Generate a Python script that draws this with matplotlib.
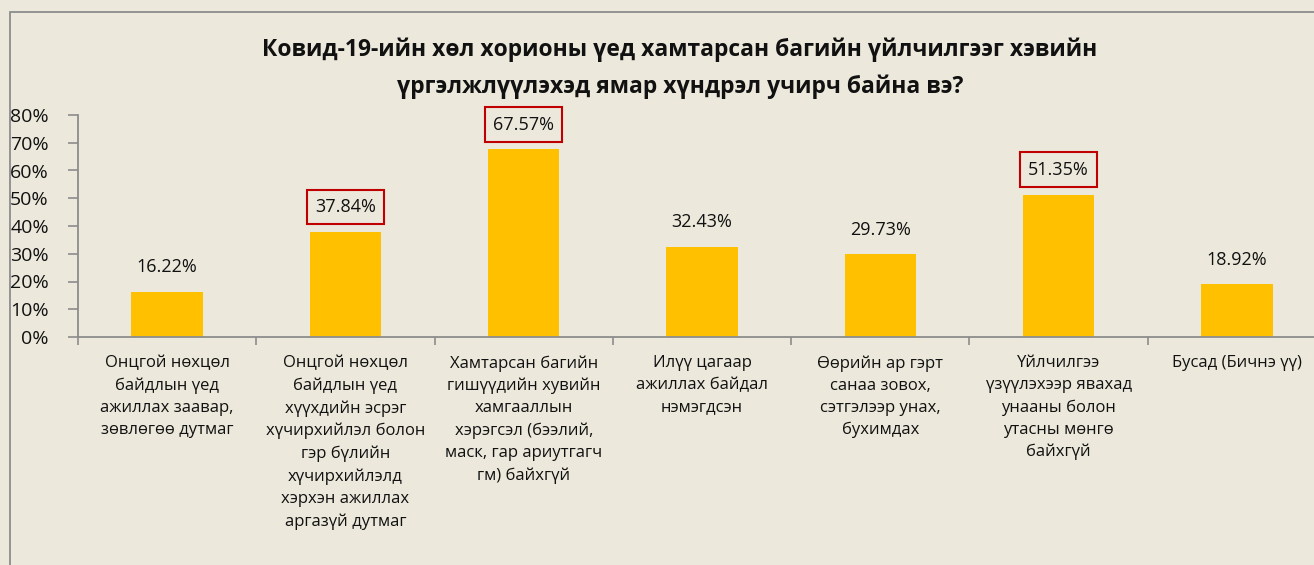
import numpy as np
import matplotlib.pyplot as plt
from matplotlib.patches import Rectangle

plt.rcParams['font.family'] = ['Open Sans', 'DejaVu Sans']

# өгөгдөл
categories = [
    "Онцгой нөхцөл\nбайдлын үед\nажиллах заавар,\nзөвлөгөө дутмаг",
    "Онцгой нөхцөл\nбайдлын үед\nхүүхдийн эсрэг\nхүчирхийлэл болон\nгэр бүлийн\nхүчирхийлэлд\nхэрхэн ажиллах\nаргазүй дутмаг",
    "Хамтарсан багийн\nгишүүдийн хувийн\nхамгааллын\nхэрэгсэл (бээлий,\nмаск, гар ариутгагч\nгм) байхгүй",
    "Илүү цагаар\nажиллах байдал\nнэмэгдсэн",
    "Өөрийн ар гэрт\nсанаа зовох,\nсэтгэлээр унах,\nбухимдах",
    "Үйлчилгээ\nүзүүлэхээр явахад\nунааны болон\nутасны мөнгө\nбайхгүй",
    "Бусад (Бичнэ үү)",
]
values = [16.22, 37.84, 67.57, 32.43, 29.73, 51.35, 18.92]
boxed = [False, True, True, False, False, True, False]
yticks = [0, 10, 20, 30, 40, 50, 60, 70, 80]
title = "Ковид-19-ийн хөл хорионы үед хамтарсан багийн үйлчилгээг хэвийн\nүргэлжлүүлэхэд ямар хүндрэл учирч байна вэ?"

bg = '#ECE9DC'
W, H = 1314, 565
fig = plt.figure(figsize=(W / 100, H / 100), dpi=100, facecolor=bg)
ax = fig.add_axes([78 / W, (H - 337) / H, (1326 - 78) / W, 222 / H])
ax.set_facecolor(bg)

x = np.arange(len(values))
ax.bar(x, values, width=0.40, color='#FFC000', zorder=2)

ax.set_xlim(-0.5, len(values) - 0.5)
ax.set_ylim(0, 80)
ax.set_yticks(yticks)
ax.set_yticklabels([f"{t}%" for t in yticks], fontsize=14)

# категорийн хил дээрх зураас
ax.set_xticks(np.arange(len(values) + 1) - 0.5)
ax.set_xticklabels([])
for i, c in enumerate(categories):
    ax.text(i, -6.5, c, ha='center', va='top', fontsize=12, linespacing=1.5,
            color='#111111')

for s in ['top', 'right']:
    ax.spines[s].set_visible(False)
for s in ['left', 'bottom']:
    ax.spines[s].set_color('#8c8c8c')
    ax.spines[s].set_linewidth(1.3)
ax.tick_params(axis='y', colors='#8c8c8c', labelcolor='#111111', length=7, width=1.2, pad=14)
ax.tick_params(axis='x', colors='#8c8c8c', length=6, width=1.2, direction='out')

for i, v in enumerate(values):
    if boxed[i]:
        ax.text(i, v + 9, f"{v:.2f}%", ha='center', va='center', fontsize=13,
                color='#111111',
                bbox=dict(boxstyle='square,pad=0.45', fc='none', ec='#C00000', lw=1.5))
    else:
        ax.text(i, v + 9, f"{v:.2f}%", ha='center', va='center', fontsize=13,
                color='#111111')

fig.text(680 / W, 1 - 68 / H, title, ha='center', va='center', fontsize=16.5,
         fontweight='bold', linespacing=1.65, color='#111111')

# гадна хүрээ
fig.patches.append(Rectangle((10 / W, -0.1), 1.2, 1 - 12 / H + 0.1,
                             transform=fig.transFigure, fill=False,
                             ec='#8c8c8c', lw=1.3))

fig.savefig('out.png', dpi=100, facecolor=bg)
